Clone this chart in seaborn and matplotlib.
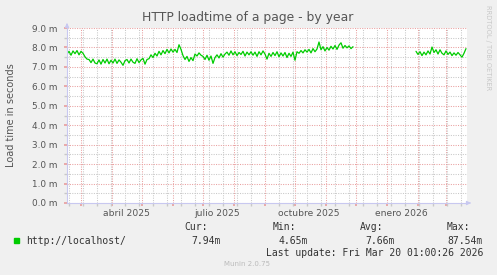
import numpy as np
import pandas as pd
import matplotlib
matplotlib.use("Agg")
import matplotlib.pyplot as plt
import matplotlib.dates as mdates
import matplotlib.transforms as mtransforms
from matplotlib.ticker import MultipleLocator, FixedLocator, NullFormatter
import seaborn as sns

# ---------------- data ----------------
title = "HTTP loadtime of a page - by year"
y_label = "Load time in seconds"
series_name = "http://localhost/"

seg1_start = "2025-02-15"
seg1_values = [
    7.66, 7.80, 7.60, 7.82, 7.68, 7.84, 7.62, 7.80, 7.70,
    7.52, 7.40,
    7.38, 7.22, 7.40, 7.20,
    7.16, 7.36, 7.14, 7.38, 7.20, 7.40, 7.16,
    7.34, 7.20, 7.40, 7.18, 7.36,
    7.24, 7.08, 7.32,
    7.38, 7.20, 7.40, 7.24, 7.18, 7.42, 7.22, 7.36,
    7.44, 7.14, 7.38,
    7.42, 7.62, 7.48, 7.70, 7.56,
    7.80, 7.62, 7.84, 7.68,
    7.90, 7.72, 7.92, 7.76, 7.90,
    7.74, 8.14, 7.90,
    7.58, 7.38, 7.54,
    7.28, 7.48, 7.32,
    7.66, 7.56, 7.72, 7.60,
    7.54, 7.38, 7.60, 7.34, 7.56, 7.18, 7.48,
    7.62, 7.46, 7.68, 7.50, 7.66,
    7.76, 7.60, 7.82, 7.62, 7.78, 7.58, 7.74, 7.64, 7.80, 7.56, 7.76, 7.62, 7.78,
    7.60, 7.76, 7.54, 7.78, 7.62, 7.82, 7.66,
    7.40,
    7.70, 7.54, 7.74, 7.58, 7.78, 7.52, 7.72,
    7.56, 7.74, 7.48, 7.70, 7.54, 7.76, 7.34,
    7.78, 7.70, 7.84, 7.72, 7.88,
    7.76, 7.90, 7.72, 7.94, 7.78, 7.92, 8.28,
    7.88, 8.04, 7.82, 8.00, 7.86, 8.06,
    7.92, 8.10, 7.90, 8.12, 8.24,
    7.96, 8.10, 7.98, 8.08, 7.94, 8.04,
]
seg2_start = "2026-01-30"
seg2_values = [
    7.80, 7.64, 7.78, 7.58, 7.76, 7.62, 7.82, 7.66,
    8.02, 7.74, 7.88, 7.66, 7.88, 7.70,
    7.62, 7.82, 7.64, 7.76, 7.58,
    7.72, 7.60, 7.74, 7.62, 7.50, 7.70, 7.94,
]
step_days = 2

y_ticks = [0, 1, 2, 3, 4, 5, 6, 7, 8, 9]
x_label_months = ["2025-04-15", "2025-07-15", "2025-10-15", "2026-01-15"]
x_label_texts = ["abril 2025", "julio 2025", "octubre 2025", "enero 2026"]
x_start, x_end = "2025-02-15", "2026-03-22"

stat_names = ["Cur:", "Min:", "Avg:", "Max:"]
stat_values = ["7.94m", "4.65m", "7.66m", "87.54m"]
last_update = "Last update: Fri Mar 20 01:00:26 2026"
footer = "Munin 2.0.75"
watermark = "RRDTOOL / TOBI OETIKER"

# ---------------- build frame ----------------
d1 = pd.date_range(seg1_start, periods=len(seg1_values), freq=f"{step_days}D")
d2 = pd.date_range(seg2_start, periods=len(seg2_values), freq=f"{step_days}D")
df = pd.DataFrame({
    "date": list(d1) + list(d2),
    "value": seg1_values + seg2_values,
    "segment": [1] * len(d1) + [2] * len(d2),
})

# ---------------- style ----------------
sns.set_theme(style="white")
plt.rcParams["font.family"] = ["DejaVu Sans"]

BG = "#F0F0F0"
GREEN = "#00CC00"
MAJ = "#E9A0A0"
MIN = "#C8C8C8"
AXC = "#C8C8F0"
TXT = "#555555"

W, H = 497, 275
fig = plt.figure(figsize=(W / 100, H / 100), dpi=100, facecolor=BG)
left, right, top, bottom = 67, 467, 28, 203
ax = fig.add_axes([left / W, (H - bottom) / H, (right - left) / W, (bottom - top) / H])
ax.set_facecolor("white")

sns.lineplot(data=df, x="date", y="value", units="segment", estimator=None,
             color=GREEN, linewidth=0.9, ax=ax, legend=False)

ax.set_xlim(pd.Timestamp(x_start), pd.Timestamp(x_end))
ax.set_ylim(y_ticks[0], y_ticks[-1])

# grids
ax.xaxis.set_major_locator(mdates.MonthLocator(bymonthday=1))
ax.xaxis.set_minor_locator(mdates.WeekdayLocator(byweekday=mdates.MO, interval=2))
ax.xaxis.set_major_formatter(NullFormatter())
ax.xaxis.set_minor_formatter(NullFormatter())
ax.yaxis.set_major_locator(FixedLocator(y_ticks))
ax.yaxis.set_minor_locator(MultipleLocator(0.5))
ax.set_yticklabels([f"{v:.1f} m" for v in y_ticks])

ax.grid(which="minor", color=MIN, linestyle=(0, (1, 1.3)), linewidth=0.75)
ax.grid(which="major", color=MAJ, linestyle=(0, (1, 1.3)), linewidth=0.75)
ax.set_axisbelow(True)

ax.tick_params(axis="y", which="major", length=2, color=MAJ, labelsize=6.4,
               labelcolor=TXT, pad=5, left=True)
ax.tick_params(axis="y", which="minor", length=2, color=MIN, left=True)
ax.tick_params(axis="x", which="major", length=2, color=MAJ, bottom=True, pad=1)
ax.tick_params(axis="x", which="minor", length=2, color=MIN, bottom=True)

for s in ["top", "right"]:
    ax.spines[s].set_visible(False)
for s in ["left", "bottom"]:
    ax.spines[s].set_color(AXC)
    ax.spines[s].set_linewidth(0.8)

# axis arrows
ax.annotate("", xy=(1.0 + 4 / (right - left), 0), xytext=(1.0, 0),
            xycoords="axes fraction",
            arrowprops=dict(arrowstyle="-|>", color=AXC, lw=0.8, mutation_scale=6),
            annotation_clip=False)
ax.annotate("", xy=(0, 1.0 + 5 / (bottom - top)), xytext=(0, 1.0),
            xycoords="axes fraction",
            arrowprops=dict(arrowstyle="-|>", color=AXC, lw=0.8, mutation_scale=6),
            annotation_clip=False)

# month labels
trans = mtransforms.blended_transform_factory(ax.transData, ax.transAxes)
for d, t in zip(x_label_months, x_label_texts):
    ax.text(mdates.date2num(pd.Timestamp(d)), -0.035, t, transform=trans,
            ha="center", va="top", fontsize=6.6, color=TXT)

ax.set_xlabel("")
ax.set_ylabel("")

# texts
fig.text(248 / W, 1 - 18 / H, title, ha="center", va="center", fontsize=8.9, color=TXT)
fig.text(11 / W, 1 - 115 / H, y_label, ha="center", va="center", rotation=90,
         fontsize=7.0, color=TXT)
fig.text(488 / W, 1 - 5 / H, watermark, ha="center", va="top", rotation=270,
         fontsize=4.8, color="#C8C8C8")

mono = "DejaVu Sans Mono"
lf = 7.0
fig.patches.append(plt.Rectangle((14 / W, 1 - 243 / H), 5 / W, 5 / H,
                                 transform=fig.transFigure, color=GREEN, figure=fig))
fig.text(26 / W, 1 - 240.5 / H, series_name, ha="left", va="center",
         fontsize=lf, family=mono, color="#333333")
name_right = [208, 296, 383, 470]
val_right = [221, 308, 395, 483]
for n, xr in zip(stat_names, name_right):
    fig.text(xr / W, 1 - 227.5 / H, n, ha="right", va="center", fontsize=lf,
             family=mono, color="#333333")
for v, xr in zip(stat_values, val_right):
    fig.text(xr / W, 1 - 240.5 / H, v, ha="right", va="center", fontsize=lf,
             family=mono, color="#333333")
fig.text(483 / W, 1 - 252.5 / H, last_update, ha="right", va="center", fontsize=lf,
         family=mono, color="#333333")
fig.text(247 / W, 1 - 264 / H, footer, ha="center", va="center", fontsize=5.0,
         color="#BBBBBB")

fig.savefig("out.png", dpi=100, facecolor=BG)
